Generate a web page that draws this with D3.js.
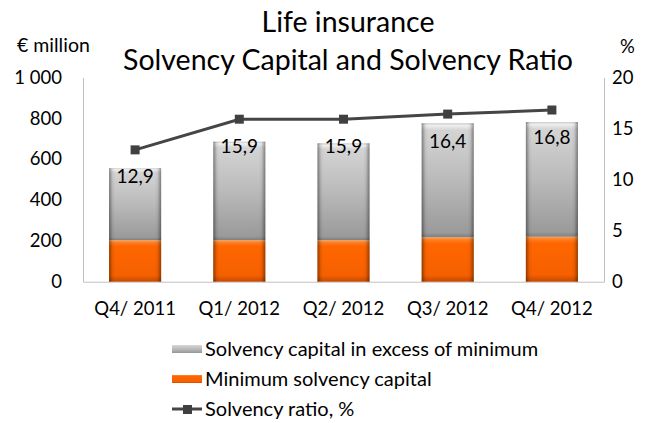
<!DOCTYPE html>
<html>
<head>
<meta charset="utf-8">
<script src="https://cdn.jsdelivr.net/npm/d3@7"></script>
<style>
  body { margin: 0; background: #fff; }
  text { font-family: Lato, "Open Sans", sans-serif; fill: #000; }
</style>
</head>
<body>
<div id="chart"></div>
<script>
// values
var quarters = ["Q4/ 2011", "Q1/ 2012", "Q2/ 2012", "Q3/ 2012", "Q4/ 2012"];
var minimumCapital = [203, 203, 203, 217, 220];
var excessCapital = [352, 482, 474, 558, 561];
var solvencyRatio = [12.9, 15.9, 15.9, 16.4, 16.8];
var leftTicks = [0, 200, 400, 600, 800, 1000];
var rightTicks = [0, 5, 10, 15, 20];
var seriesNames = ["Solvency capital in excess of minimum", "Minimum solvency capital", "Solvency ratio, %"];

var svgWidth = 663;
var svgHeight = 423;

var margin = { top: 77.3, right: 59, bottom: 141.3, left: 83 };
var width = svgWidth - margin.left - margin.right;
var height = svgHeight - margin.top - margin.bottom;

var fi = d3.formatLocale({ decimal: ",", thousands: " ", grouping: [3], currency: ["", "€"] });
var fmtThousands = fi.format(",d");
var fmtRatio = fi.format(".1f");

var svg = d3.select("#chart")
  .append("svg")
  .attr("width", svgWidth)
  .attr("height", svgHeight);

// gradients
var defs = svg.append("defs");
function vGrad(id, stops) {
  var g = defs.append("linearGradient").attr("id", id)
    .attr("x1", 0).attr("y1", 0).attr("x2", 0).attr("y2", 1);
  stops.forEach(function(s) {
    g.append("stop").attr("offset", s[0]).attr("stop-color", s[1]);
  });
}
vGrad("grayFill", [[0, "#c8c8c8"], [0.02, "#efefef"], [0.06, "#d4d4d4"], [0.5, "#bababa"], [0.96, "#9a9a9a"], [1, "#7e7e7e"]]);
vGrad("orangeFill", [[0, "#ff9c50"], [0.07, "#ff7a1a"], [0.15, "#ff6600"], [0.85, "#f56000"], [1, "#c44800"]]);
var edge = defs.append("linearGradient").attr("id", "edgeShade")
  .attr("x1", 0).attr("y1", 0).attr("x2", 1).attr("y2", 0);
[[0, 0.4], [0.07, 0.06], [0.12, 0], [0.88, 0], [0.93, 0.06], [1, 0.4]].forEach(function(s) {
  edge.append("stop").attr("offset", s[0]).attr("stop-color", "#000").attr("stop-opacity", s[1]);
});

var chartGroup = svg.append("g")
  .attr("transform", `translate(${margin.left}, ${margin.top})`);

// scales
var xBandScale = d3.scaleBand()
  .domain(quarters)
  .range([0, width])
  .paddingInner(0.5)
  .paddingOuter(0.25);

var yLinearScale = d3.scaleLinear().domain([0, 1000]).range([height, 0]);
var yRatioScale = d3.scaleLinear().domain([0, 20]).range([height, 0]);

// axes
var leftAxis = d3.axisLeft(yLinearScale).tickValues(leftTicks).tickFormat(fmtThousands)
  .tickSize(0).tickPadding(21);
var rightAxis = d3.axisRight(yRatioScale).tickValues(rightTicks).tickFormat(d3.format("d"))
  .tickSize(0).tickPadding(8);
var bottomAxis = d3.axisBottom(xBandScale).tickSize(0).tickPadding(20);

function styleAxis(g) {
  g.select(".domain").attr("stroke", "#c0c0c0").attr("stroke-width", 1);
  g.selectAll("text").attr("font-size", 18.5).attr("fill", "#000")
    .style("font-family", "Lato, 'Open Sans', sans-serif");
}

chartGroup.append("g").call(leftAxis).call(styleAxis);
chartGroup.append("g").attr("transform", `translate(${width}, 0)`).call(rightAxis).call(styleAxis);
chartGroup.append("g").attr("transform", `translate(0, ${height})`).call(bottomAxis).call(styleAxis);

// stacked bars
var rows = quarters.map(function(q, i) {
  return { quarter: q, min: minimumCapital[i], excess: excessCapital[i] };
});
var stacked = d3.stack().keys(["min", "excess"])(rows);
var fills = { min: "url(#orangeFill)", excess: "url(#grayFill)" };

stacked.forEach(function(layer) {
  var g = chartGroup.append("g");
  var sel = g.selectAll("g").data(layer).enter().append("g");
  sel.append("rect")
    .attr("x", d => xBandScale(d.data.quarter))
    .attr("y", d => yLinearScale(d[1]))
    .attr("width", xBandScale.bandwidth())
    .attr("height", d => yLinearScale(d[0]) - yLinearScale(d[1]))
    .attr("fill", fills[layer.key]);
  sel.append("rect")
    .attr("x", d => xBandScale(d.data.quarter))
    .attr("y", d => yLinearScale(d[1]))
    .attr("width", xBandScale.bandwidth())
    .attr("height", d => yLinearScale(d[0]) - yLinearScale(d[1]))
    .attr("fill", "url(#edgeShade)");
});

// solvency ratio line
var lineData = quarters.map(function(q, i) { return { quarter: q, v: solvencyRatio[i] }; });
var line = d3.line()
  .x(d => xBandScale(d.quarter) + xBandScale.bandwidth() / 2)
  .y(d => yRatioScale(d.v));

chartGroup.append("path")
  .datum(lineData)
  .attr("d", line)
  .attr("fill", "none")
  .attr("stroke", "#454545")
  .attr("stroke-width", 3);

chartGroup.selectAll(".marker")
  .data(lineData)
  .enter()
  .append("rect")
  .attr("class", "marker")
  .attr("x", d => xBandScale(d.quarter) + xBandScale.bandwidth() / 2 - 4.5)
  .attr("y", d => yRatioScale(d.v) - 4.5)
  .attr("width", 9)
  .attr("height", 9)
  .attr("fill", "#404040");

chartGroup.selectAll(".ratioLabel")
  .data(lineData)
  .enter()
  .append("text")
  .attr("class", "ratioLabel")
  .attr("x", d => xBandScale(d.quarter) + xBandScale.bandwidth() / 2)
  .attr("y", d => yRatioScale(d.v) + 33.5)
  .attr("text-anchor", "middle")
  .attr("font-size", 19)
  .text(d => fmtRatio(d.v));

// titles
svg.append("text")
  .attr("x", 348).attr("y", 32)
  .attr("text-anchor", "middle")
  .attr("font-size", 28.5)
  .attr("fill", "#222")
  .text("Life insurance");
svg.append("text")
  .attr("x", 348).attr("y", 70)
  .attr("text-anchor", "middle")
  .attr("font-size", 28.5)
  .attr("fill", "#222")
  .text("Solvency Capital and Solvency Ratio");

svg.append("text").attr("x", 17).attr("y", 52).attr("font-size", 19.5).text("€ million");
svg.append("text").attr("x", 620).attr("y", 53).attr("font-size", 18.5).text("%");

// legend
var legend = svg.append("g").attr("transform", "translate(172, 0)");
var legendY = [349, 379, 409];

legend.append("rect").attr("x", 0).attr("y", legendY[0] - 4).attr("width", 30).attr("height", 8)
  .attr("fill", "url(#grayFill)");
legend.append("rect").attr("x", 0).attr("y", legendY[1] - 4).attr("width", 30).attr("height", 8)
  .attr("fill", "url(#orangeFill)");
legend.append("line").attr("x1", 0).attr("x2", 30).attr("y1", legendY[2]).attr("y2", legendY[2])
  .attr("stroke", "#454545").attr("stroke-width", 3);
legend.append("rect").attr("x", 11).attr("y", legendY[2] - 4).attr("width", 9).attr("height", 9)
  .attr("fill", "#404040");

legend.selectAll(".legendText")
  .data(seriesNames)
  .enter()
  .append("text")
  .attr("class", "legendText")
  .attr("x", 33)
  .attr("y", (d, i) => legendY[i] + 7)
  .attr("font-size", 20)
  .text(d => d);
</script>
</body>
</html>
